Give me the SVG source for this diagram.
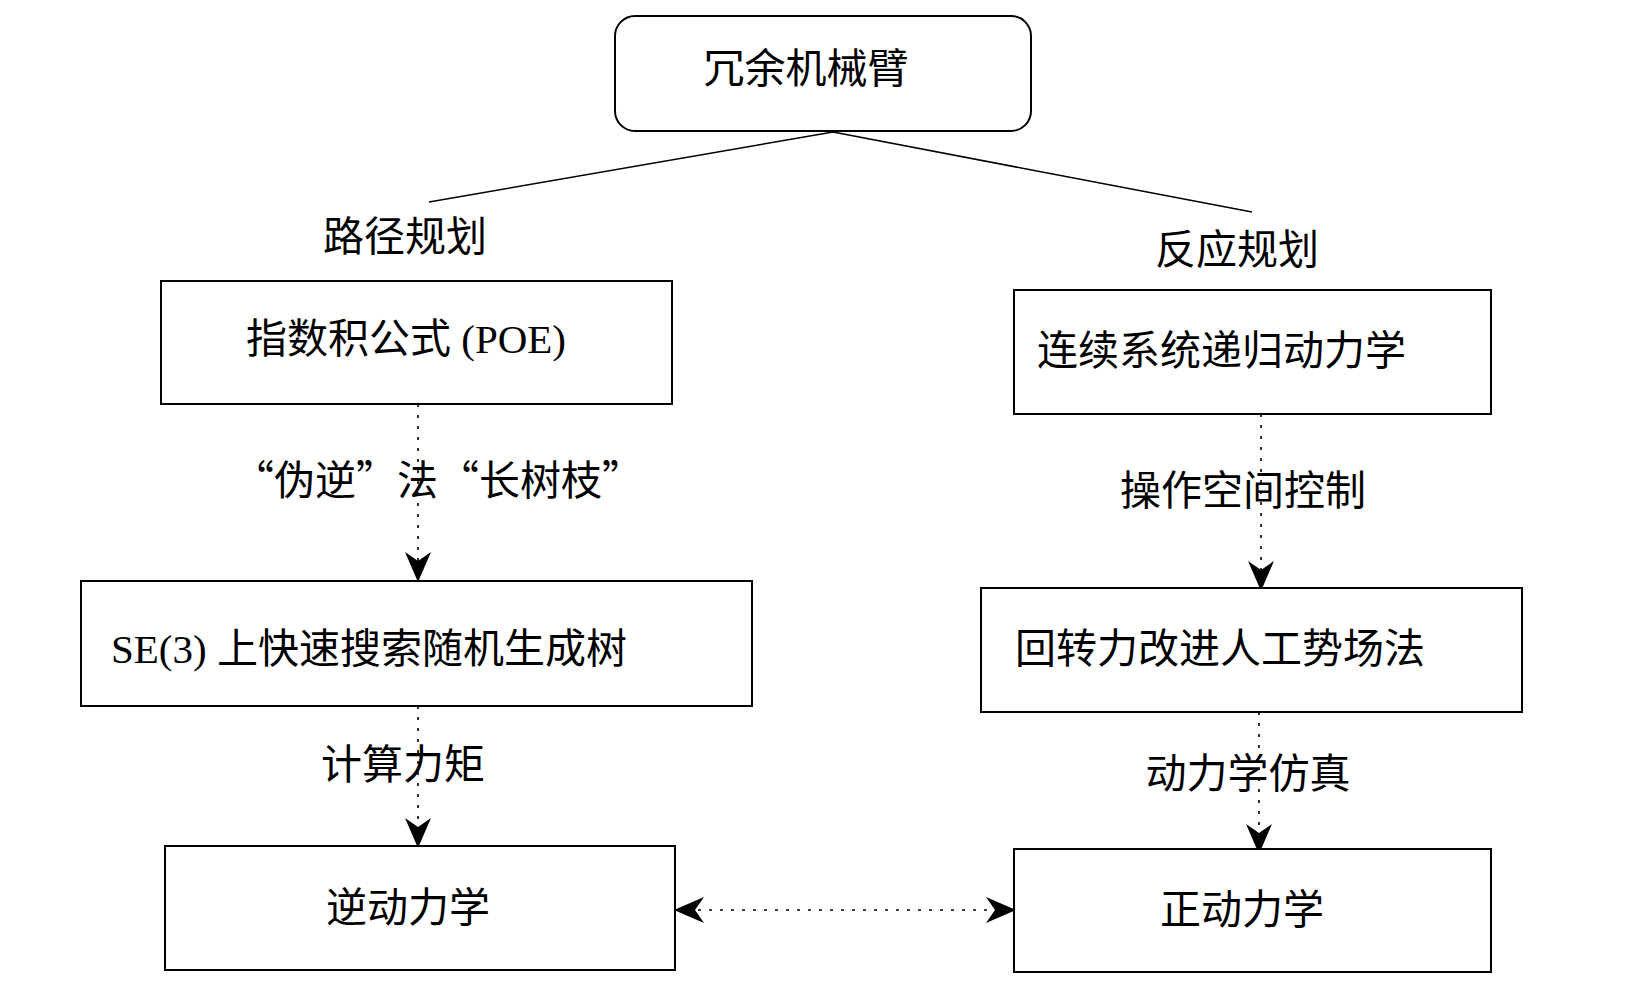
<svg xmlns="http://www.w3.org/2000/svg" width="1646" height="1004" viewBox="0 0 1646 1004">
<style>
.b{fill:#fff;stroke:#000;stroke-width:2}
text{font-family:"Liberation Serif","Noto Sans CJK SC",serif;font-size:41px;fill:#000}
.q{font-family:"Noto Sans CJK SC",serif}
.c{stroke:#000;stroke-width:1.6;fill:none}
.d{stroke-dasharray:3,8}
</style>
<defs>
<marker id="a" viewBox="0 0 30 26" refX="28" refY="13" markerWidth="30" markerHeight="26" markerUnits="userSpaceOnUse" orient="auto-start-reverse">
<path d="M0,0 L30,13 L0,26 L9,13 Z" fill="#000"/>
</marker>
</defs>
<g id="connectors">
<path class="c" d="M833,132 L429,202 M833,132 L1252,212"/>
<path class="c d" d="M418,404 L418,580" marker-end="url(#a)"/>
<path class="c d" d="M1261,414 L1261,589" marker-end="url(#a)"/>
<path class="c d" d="M418,706 L418,846" marker-end="url(#a)"/>
<path class="c d" d="M1259,712 L1259,852" marker-end="url(#a)"/>
<path class="c d" d="M676,910 L1014,910" marker-start="url(#a)" marker-end="url(#a)"/>
<text x="405" y="251" text-anchor="middle">路径规划</text>
<text x="1237" y="264" text-anchor="middle">反应规划</text>
<text class="q" x="438" y="495" text-anchor="middle">“伪逆”法“长树枝”</text>
<text x="1243" y="505" text-anchor="middle">操作空间控制</text>
<text x="403" y="779" text-anchor="middle">计算力矩</text>
<text x="1248" y="788" text-anchor="middle">动力学仿真</text>
</g>
<g id="root"><rect class="b" x="615" y="16" width="416" height="115" rx="20"/><text x="806" y="83" text-anchor="middle">冗余机械臂</text></g>
<g id="poe"><rect class="b" x="161" y="281" width="511" height="123"/><text x="406" y="353" text-anchor="middle">指数积公式 (POE)</text></g>
<g id="cont"><rect class="b" x="1014" y="290" width="477" height="124"/><text x="1037" y="365">连续系统递归动力学</text></g>
<g id="se3"><rect class="b" x="81" y="581" width="671" height="125"/><text x="111" y="663">SE(3) 上快速搜索随机生成树</text></g>
<g id="gyro"><rect class="b" x="981" y="588" width="541" height="124"/><text x="1015" y="663">回转力改进人工势场法</text></g>
<g id="inv"><rect class="b" x="165" y="846" width="510" height="124"/><text x="408" y="922" text-anchor="middle">逆动力学</text></g>
<g id="fwd"><rect class="b" x="1014" y="849" width="477" height="123"/><text x="1242" y="924" text-anchor="middle">正动力学</text></g>
</svg>
